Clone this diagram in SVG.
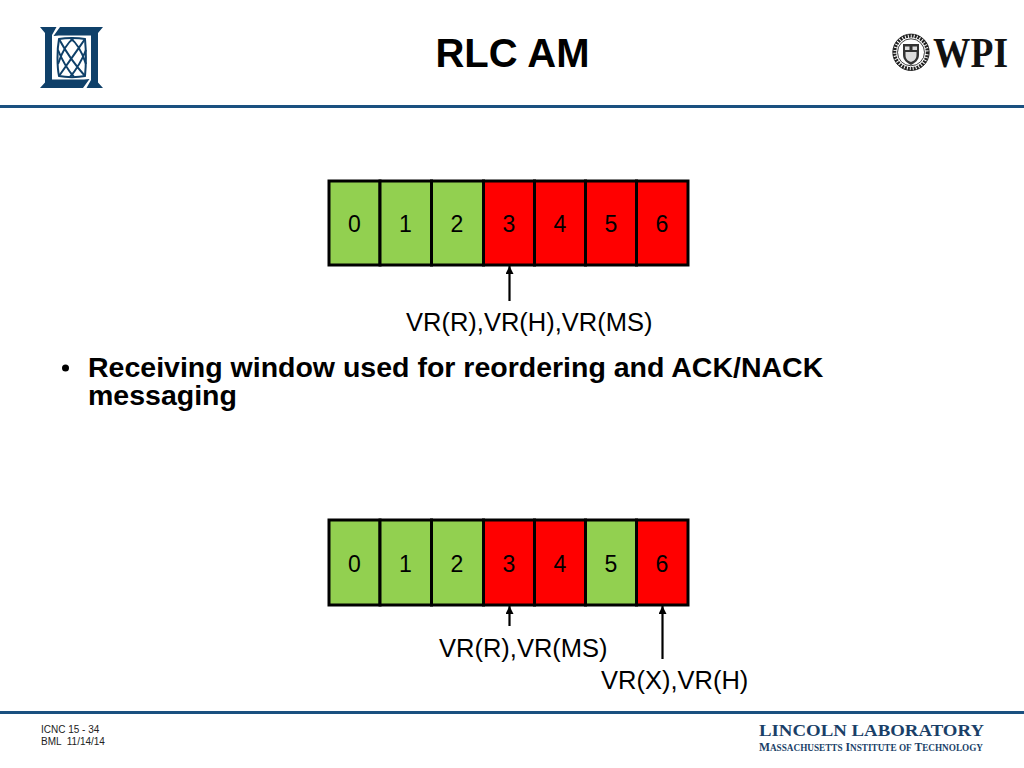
<svg xmlns="http://www.w3.org/2000/svg" width="1024" height="768" viewBox="0 0 1024 768">
<style>
text{font-family:"Liberation Sans",Arial,sans-serif;fill:#000}
.n{font-size:23px;text-anchor:middle}
.l{font-size:25.5px}
.b{font-size:28.5px;font-weight:bold}
.f{font-size:10px;fill:#222}
.g{fill:#92d050;stroke:#000;stroke-width:3}
.r{fill:#f00;stroke:#000;stroke-width:3}
.a{stroke:#000;stroke-width:2.2;fill:none;marker-end:url(#ah)}
.s{font-family:"Liberation Serif",serif;font-weight:bold;fill:#1a3f68}
.k{fill:none;stroke:#0f4069;stroke-width:2}
</style>
<defs>
<marker id="ah" markerUnits="userSpaceOnUse" markerWidth="9" markerHeight="9" refX="8" refY="4" orient="auto"><path d="M0 0L8 4L0 8Z" fill="#000"/></marker>
</defs>
<rect width="1024" height="768" fill="#fff"/>
<g id="header">
<rect x="0" y="105" width="1024" height="3" fill="#1a5080"/>
<text x="512.500" y="67" font-size="40" font-weight="bold" text-anchor="middle">RLC AM</text>
</g>
<g id="logo-mit">
<path d="M40 27H56.500L52 35V79.500H84L89.500 79 83 88H40L45 82.500V33Z" fill="#0f4069"/>
<path d="M103 27L98 33V82.500L103 88H86.500L91 80V35.500H59L53.500 36 60 27Z" fill="#0f4069"/>
<path class="k" d="M59 39C66 37.500 78 37.500 85 39C86 50 86 66 85 76C78 77.500 66 77.500 59 76C57 66 57 50 59 39Z"/>
<path class="k" d="M59 39C66 52 76 66 85 76M85 39C76 52 66 66 59 76M58 50C62 60 68 70 74 77M86 50C82 60 76 70 70 77M70 38C76 42 82 52 86 64M74 38C68 42 62 52 58 64"/>
</g>
<g id="logo-wpi">
<circle cx="911" cy="52.300" r="16.500" fill="none" stroke="#222" stroke-width="3.500" stroke-dasharray="2 1"/>
<circle cx="911" cy="52.300" r="18.200" fill="none" stroke="#111" stroke-width="0.800"/>
<circle cx="911" cy="52.300" r="13.500" fill="none" stroke="#111" stroke-width="0.800"/>
<path d="M903 44H919V55C919 60 915 63 911 65C907 63 903 60 903 55Z" fill="#333"/>
<path d="M905 46.500H909.500V50H905ZM912.500 46.500H917V50H912.500ZM905.500 52H916.500V55C916.500 59 914 61 911 62C908 61 905.500 59 905.500 55Z" fill="#ddd"/>
<text x="933" y="67" font-size="43" font-weight="bold" textLength="75" lengthAdjust="spacingAndGlyphs" style="font-family:'Liberation Serif',serif;fill:#111">WPI</text>
</g>
<g id="window-top">
<g id="t0"><rect class="g" x="329" y="181" width="51" height="84"/><text class="n" x="354.500" y="232">0</text></g>
<g id="t1"><rect class="g" x="380" y="181" width="51.500" height="84"/><text class="n" x="405.500" y="232">1</text></g>
<g id="t2"><rect class="g" x="431.500" y="181" width="52" height="84"/><text class="n" x="457" y="232">2</text></g>
<g id="t3"><rect class="r" x="483.500" y="181" width="51" height="84"/><text class="n" x="509" y="232">3</text></g>
<g id="t4"><rect class="r" x="534.500" y="181" width="51" height="84"/><text class="n" x="560" y="232">4</text></g>
<g id="t5"><rect class="r" x="585.500" y="181" width="51" height="84"/><text class="n" x="611" y="232">5</text></g>
<g id="t6"><rect class="r" x="636.500" y="181" width="51.500" height="84"/><text class="n" x="662" y="232">6</text></g>
</g>
<g id="window-bottom">
<g id="b0"><rect class="g" x="329" y="520" width="51" height="85"/><text class="n" x="354.500" y="572">0</text></g>
<g id="b1"><rect class="g" x="380" y="520" width="51.500" height="85"/><text class="n" x="405.500" y="572">1</text></g>
<g id="b2"><rect class="g" x="431.500" y="520" width="52" height="85"/><text class="n" x="457" y="572">2</text></g>
<g id="b3"><rect class="r" x="483.500" y="520" width="51" height="85"/><text class="n" x="509" y="572">3</text></g>
<g id="b4"><rect class="r" x="534.500" y="520" width="51" height="85"/><text class="n" x="560" y="572">4</text></g>
<g id="b5"><rect class="g" x="585.500" y="520" width="51" height="85"/><text class="n" x="611" y="572">5</text></g>
<g id="b6"><rect class="r" x="636.500" y="520" width="51.500" height="85"/><text class="n" x="662" y="572">6</text></g>
</g>
<g id="connectors">
<path class="a" d="M509.500 301V266"/>
<path class="a" d="M509.500 626V606"/>
<path class="a" d="M662.500 659V606"/>
</g>
<g id="labels">
<text class="l" x="406" y="331">VR(R),VR(H),VR(MS)</text>
<text class="l" x="439" y="657">VR(R),VR(MS)</text>
<text class="l" x="601" y="689">VR(X),VR(H)</text>
</g>
<g id="bullet">
<circle cx="65.500" cy="368" r="3.500"/>
<text class="b" x="88" y="377">Receiving window used for reordering and ACK/NACK</text>
<text class="b" x="88" y="405">messaging</text>
</g>
<g id="footer">
<rect x="0" y="711" width="1024" height="3" fill="#1a5080"/>
<text class="f" x="41" y="733">ICNC 15 - 34</text>
<text class="f" x="41" y="745" xml:space="preserve">BML  11/14/14</text>
<text class="s" x="759" y="736" font-size="17" textLength="225" lengthAdjust="spacingAndGlyphs">LINCOLN LABORATORY</text>
<text class="s" x="759" y="751" font-size="12" textLength="224" lengthAdjust="spacingAndGlyphs">M<tspan font-size="9.500">ASSACHUSETTS</tspan> I<tspan font-size="9.500">NSTITUTE OF</tspan> T<tspan font-size="9.500">ECHNOLOGY</tspan></text>
</g>
</svg>
